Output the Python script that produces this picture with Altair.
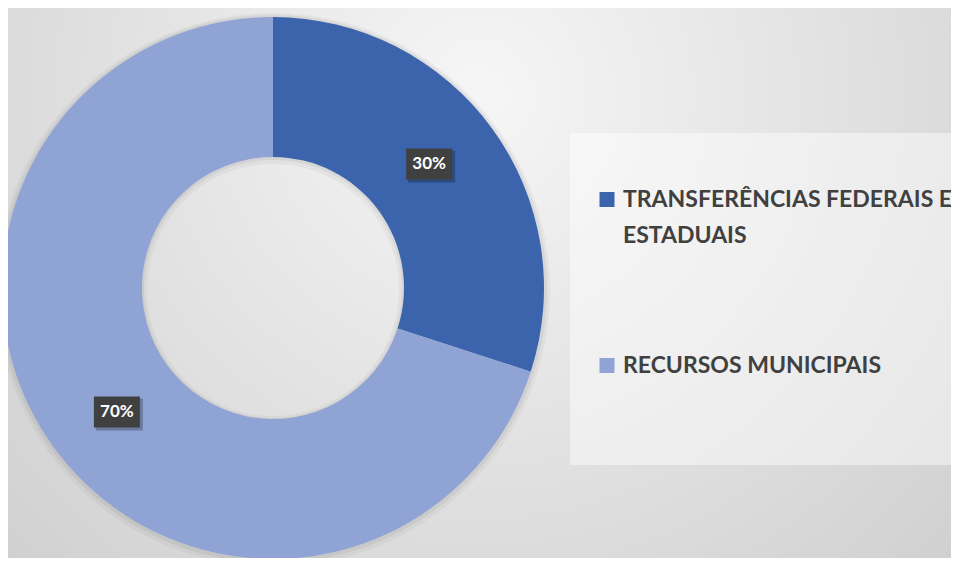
import altair as alt
import pandas as pd

# ---- data ----
categories = ["TRANSFERÊNCIAS FEDERAIS E ESTADUAIS", "RECURSOS MUNICIPAIS"]
values = [30, 70]
order_idx = [0, 1]
colors = ["#3B64AD", "#8FA3D5"]

# ---- layout constants ----
W, H = 943, 550
CX, CY = 265, 280
R_OUT, R_IN = 271, 131
RX_LABEL, RY_LABEL = 193, 211
BOX_W, BOX_H = 46, 31
LEG_SX, LEG_TX = 599, 615
LEG_SY0, LEG_TY0, LEG_STEP = 191.5, 199, 166

df = pd.DataFrame({"category": categories, "value": values, "idx": order_idx})

XS = alt.Scale(domain=[0, W], range=[0, W], nice=False, zero=False)
YS = alt.Scale(domain=[0, H], range=[0, H], nice=False, zero=False)

grad = {
    "gradient": "radial",
    "x1": 0.5, "y1": 0.3, "r1": 0,
    "x2": 0.5, "y2": 0.3, "r2": 0.8,
    "stops": [
        {"offset": 0, "color": "#f6f6f6"},
        {"offset": 1, "color": "#cbcbcb"},
    ],
}

one = alt.Data(values=[{"k": 1}])

bg = alt.Chart(one).mark_rect(fill=grad).encode(
    x=alt.value(0), x2=alt.value(W), y=alt.value(0), y2=alt.value(H)
)

legend_box = alt.Chart(one).mark_rect(fill="white", opacity=0.45).encode(
    x=alt.value(562), x2=alt.value(W), y=alt.value(125), y2=alt.value(457)
)

shadow1 = alt.Chart(df).mark_arc(radius=R_OUT + 6, radius2=R_IN - 5, fill="black", opacity=0.035).encode(
    theta=alt.Theta("value:Q", stack=True), x=alt.value(CX), y=alt.value(CY + 2)
)
shadow2 = alt.Chart(df).mark_arc(radius=R_OUT + 3, radius2=R_IN - 2, fill="black", opacity=0.05).encode(
    theta=alt.Theta("value:Q", stack=True), x=alt.value(CX), y=alt.value(CY + 1)
)

donut = alt.Chart(df).mark_arc(radius=R_OUT, radius2=R_IN).encode(
    theta=alt.Theta("value:Q", stack=True),
    color=alt.Color("category:N", scale=alt.Scale(domain=categories, range=colors), legend=None),
    order=alt.Order("idx:Q"),
    x=alt.value(CX),
    y=alt.value(CY),
)

lab = alt.Chart(df).transform_joinaggregate(
    total="sum(value)"
).transform_window(
    cum="sum(value)", sort=[alt.SortField("idx")], frame=[None, 0]
).transform_calculate(
    mid="(datum.cum - datum.value/2)/datum.total*2*PI",
).transform_calculate(
    lx=f"{CX} + {RX_LABEL}*sin(datum.mid)",
    ly=f"{CY} - {RY_LABEL}*cos(datum.mid)",
).transform_calculate(
    bx1=f"datum.lx - {BOX_W/2}", bx2=f"datum.lx + {BOX_W/2}",
    by1=f"datum.ly - {BOX_H/2}", by2=f"datum.ly + {BOX_H/2}",
    sx1=f"datum.lx - {BOX_W/2} + 2", sx2=f"datum.lx + {BOX_W/2} + 3",
    sy1=f"datum.ly - {BOX_H/2} + 2", sy2=f"datum.ly + {BOX_H/2} + 3",
    pct="format(datum.value/datum.total, '.0%')",
)

box_shadow = lab.mark_rect(fill="black", opacity=0.25).encode(
    x=alt.X("sx1:Q", scale=XS, axis=None), x2="sx2:Q",
    y=alt.Y("sy1:Q", scale=YS, axis=None), y2="sy2:Q",
)
box = lab.mark_rect(fill="#404040").encode(
    x=alt.X("bx1:Q", scale=XS, axis=None), x2="bx2:Q",
    y=alt.Y("by1:Q", scale=YS, axis=None), y2="by2:Q",
)
txt = lab.mark_text(color="white", font="Lato", fontSize=17, fontWeight="bold",
                    align="center", baseline="middle").encode(
    x=alt.X("lx:Q", scale=XS, axis=None),
    y=alt.Y("ly:Q", scale=YS, axis=None),
    text="pct:N",
)

leg = alt.Chart(df).transform_calculate(
    sx=f"{LEG_SX}", sy=f"{LEG_SY0} + datum.idx*{LEG_STEP}",
    tx=f"{LEG_TX}", ty=f"{LEG_TY0} + datum.idx*{LEG_STEP}",
    label="replace(datum.category, 'FEDERAIS E ', 'FEDERAIS E\\n')",
)
leg_sym = leg.mark_square(size=225, opacity=1).encode(
    x=alt.X("sx:Q", scale=XS, axis=None),
    y=alt.Y("sy:Q", scale=YS, axis=None),
    color=alt.Color("category:N", scale=alt.Scale(domain=categories, range=colors), legend=None),
)
leg_txt = leg.mark_text(align="left", baseline="alphabetic", font="Lato", fontSize=23,
                        fontWeight="bold", color="#404040", lineBreak="\n", lineHeight=36).encode(
    x=alt.X("tx:Q", scale=XS, axis=None),
    y=alt.Y("ty:Q", scale=YS, axis=None),
    text="label:N",
)

chart = alt.layer(
    bg, legend_box, shadow1, shadow2, donut, box_shadow, box, txt, leg_sym, leg_txt
).properties(
    width=W, height=H, padding=0, autosize="none"
).configure_view(stroke=None)

chart.save("out.html", embed_options={"renderer": "svg", "actions": False})
